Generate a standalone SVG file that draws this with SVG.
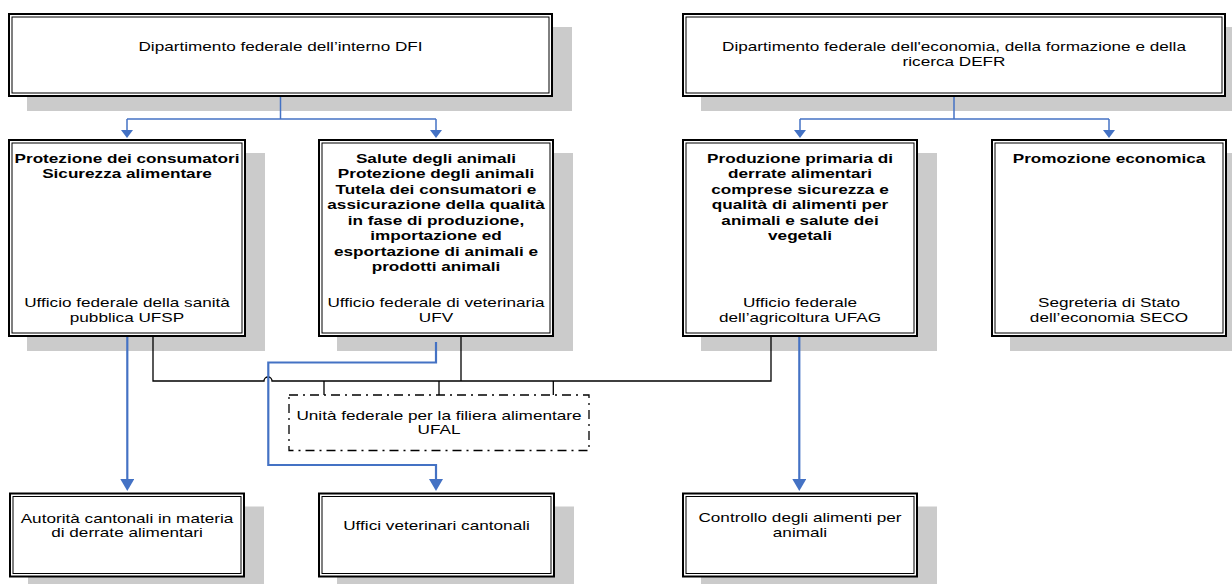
<svg xmlns="http://www.w3.org/2000/svg" width="1232" height="584" viewBox="0 0 1232 584">
<defs>
<style>
.sh{fill:#cbcbcb}
.bo{fill:#fff;stroke:#000;stroke-width:2}
.bi{fill:none;stroke:#000;stroke-width:1}
.t{font-family:"Liberation Sans",Arial,sans-serif;font-size:13px;fill:#000;text-anchor:middle}
.b{font-weight:bold}
.bl{fill:none;stroke:#4472c4;stroke-width:1.5}
.bl2{fill:none;stroke:#4472c4;stroke-width:2.2}
.k{fill:none;stroke:#000;stroke-width:1.3}
.ufal{fill:none;stroke:#000;stroke-width:1.3;stroke-dasharray:9 5 2 5}
</style>
<marker id="a1" markerUnits="userSpaceOnUse" markerWidth="8" markerHeight="12" refX="4" refY="6" orient="auto"><path d="M0,0 L8,6 L0,12 z" fill="#4472c4"/></marker>
<marker id="a2" markerUnits="userSpaceOnUse" markerWidth="12" markerHeight="14" refX="6" refY="7" orient="auto"><path d="M0,0 L12,7 L0,14 z" fill="#4472c4"/></marker>
</defs>
<rect width="1232" height="584" fill="#fff"/>

<g id="dfi">
<rect class="sh" x="27" y="27" width="545" height="84"/>
<rect class="bo" x="9" y="14" width="543" height="82"/>
<rect class="bi" x="12" y="17" width="537" height="76"/>
<text class="t" transform="translate(280.5,51) scale(1.32,1)">Dipartimento federale dell’interno DFI</text>
</g>

<g id="defr">
<rect class="sh" x="701" y="27" width="544" height="84"/>
<rect class="bo" x="683" y="14" width="542" height="82"/>
<rect class="bi" x="686" y="17" width="536" height="76"/>
<text class="t" transform="translate(954,51) scale(1.32,1)"><tspan x="0" y="0">Dipartimento federale dell'economia, della formazione e della</tspan><tspan x="0" y="15.5">ricerca DEFR</tspan></text>
</g>

<g id="ufsp">
<rect class="sh" x="27" y="153" width="238" height="198"/>
<rect class="bo" x="9" y="140" width="236" height="196"/>
<rect class="bi" x="12" y="143" width="230" height="190"/>
<text class="t b" transform="translate(127,162.7) scale(1.32,1)"><tspan x="0" y="0">Protezione dei consumatori</tspan><tspan x="0" y="15.5">Sicurezza alimentare</tspan></text>
<text class="t" transform="translate(127,306.5) scale(1.32,1)"><tspan x="0" y="0">Ufficio federale della sanità</tspan><tspan x="0" y="16">pubblica UFSP</tspan></text>
</g>

<g id="ufv">
<rect class="sh" x="337" y="153" width="236" height="198"/>
<rect class="bo" x="319" y="140" width="234" height="196"/>
<rect class="bi" x="322" y="143" width="228" height="190"/>
<text class="t b" transform="translate(436,162.7) scale(1.32,1)"><tspan x="0" y="0">Salute degli animali</tspan><tspan x="0" y="15.5">Protezione degli animali</tspan><tspan x="0" y="31">Tutela dei consumatori e</tspan><tspan x="0" y="46.5">assicurazione della qualità</tspan><tspan x="0" y="62">in fase di produzione,</tspan><tspan x="0" y="77.5">importazione ed</tspan><tspan x="0" y="93">esportazione di animali e</tspan><tspan x="0" y="108.5">prodotti animali</tspan></text>
<text class="t" transform="translate(436,306.5) scale(1.32,1)"><tspan x="0" y="0">Ufficio federale di veterinaria</tspan><tspan x="0" y="16">UFV</tspan></text>
</g>

<g id="ufag">
<rect class="sh" x="701" y="153" width="236" height="198"/>
<rect class="bo" x="683" y="140" width="234" height="196"/>
<rect class="bi" x="686" y="143" width="228" height="190"/>
<text class="t b" transform="translate(800,162.7) scale(1.32,1)"><tspan x="0" y="0">Produzione primaria di</tspan><tspan x="0" y="15.5">derrate alimentari</tspan><tspan x="0" y="31">comprese sicurezza e</tspan><tspan x="0" y="46.5">qualità di alimenti per</tspan><tspan x="0" y="62">animali e salute dei</tspan><tspan x="0" y="77.5">vegetali</tspan></text>
<text class="t" transform="translate(800,306.5) scale(1.32,1)"><tspan x="0" y="0">Ufficio federale</tspan><tspan x="0" y="16">dell’agricoltura UFAG</tspan></text>
</g>

<g id="seco">
<rect class="sh" x="1010" y="153" width="236" height="198"/>
<rect class="bo" x="992" y="140" width="234" height="196"/>
<rect class="bi" x="995" y="143" width="228" height="190"/>
<text class="t b" transform="translate(1109,162.7) scale(1.32,1)">Promozione economica</text>
<text class="t" transform="translate(1109,306.5) scale(1.32,1)"><tspan x="0" y="0">Segreteria di Stato</tspan><tspan x="0" y="16">dell’economia SECO</tspan></text>
</g>

<g id="ufal">
<rect class="ufal" x="289" y="395" width="300" height="55.5"/>
<text class="t" transform="translate(439,419.5) scale(1.32,1)"><tspan x="0" y="0">Unità federale per la filiera alimentare</tspan><tspan x="0" y="15">UFAL</tspan></text>
</g>

<g id="cantonali">
<rect class="sh" x="28" y="506.5" width="236" height="85"/>
<rect class="bo" x="10" y="493.5" width="234" height="83"/>
<rect class="bi" x="13" y="496.5" width="228" height="77"/>
<text class="t" transform="translate(127,522.5) scale(1.32,1)"><tspan x="0" y="0">Autorità cantonali in materia</tspan><tspan x="0" y="15">di derrate alimentari</tspan></text>
</g>

<g id="veterinari">
<rect class="sh" x="337" y="506.5" width="237" height="85"/>
<rect class="bo" x="319" y="493.5" width="235" height="83"/>
<rect class="bi" x="322" y="496.5" width="229" height="77"/>
<text class="t" transform="translate(436.5,530) scale(1.32,1)">Uffici veterinari cantonali</text>
</g>

<g id="controllo">
<rect class="sh" x="701" y="506.5" width="236" height="85"/>
<rect class="bo" x="683" y="493.5" width="234" height="83"/>
<rect class="bi" x="686" y="496.5" width="228" height="77"/>
<text class="t" transform="translate(800,522) scale(1.32,1)"><tspan x="0" y="0">Controllo degli alimenti per</tspan><tspan x="0" y="15">animali</tspan></text>
</g>

<g id="connectors">
<path class="bl" d="M280.5,97 V119"/>
<path class="bl" d="M127,119 H436"/>
<path class="bl" d="M127,119 V134" marker-end="url(#a1)"/>
<path class="bl" d="M436,119 V134" marker-end="url(#a1)"/>
<path class="bl" d="M954,97 V119"/>
<path class="bl" d="M800,119 H1109"/>
<path class="bl" d="M800,119 V134" marker-end="url(#a1)"/>
<path class="bl" d="M1109,119 V134" marker-end="url(#a1)"/>
<path class="k" d="M153,337 V381 H264 A4,4 0 0 1 272,381 H771 V337"/>
<path class="k" d="M461,337 V381"/>
<path class="k" d="M324,381 V395 M439,381 V395 M553.3,381 V395"/>
<path class="bl2" d="M127.3,337 V485" marker-end="url(#a2)"/>
<path class="bl2" d="M436,342 V362.5 H268.3 V465 H436 V485" marker-end="url(#a2)"/>
<path class="bl2" d="M799.3,337 V485" marker-end="url(#a2)"/>
</g>
</svg>
